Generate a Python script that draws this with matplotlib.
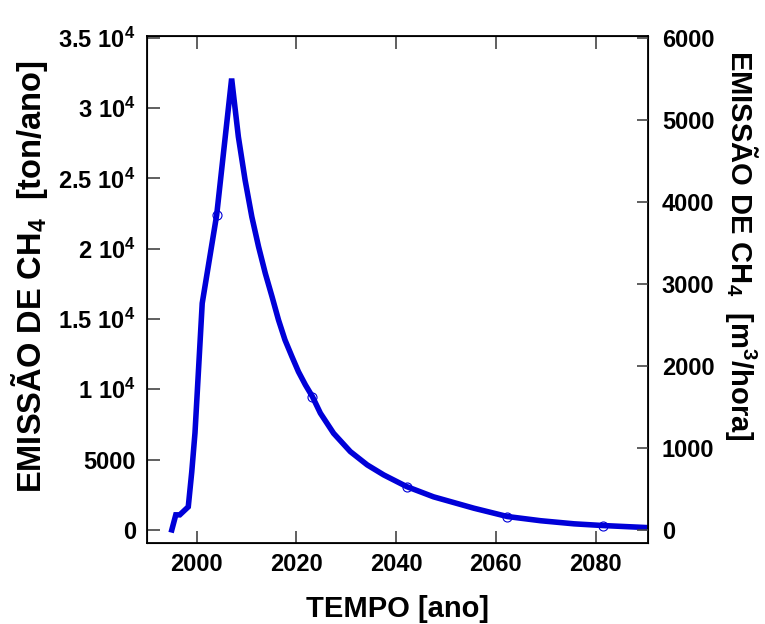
import matplotlib
matplotlib.use("Agg")
import matplotlib.pyplot as plt
from matplotlib.ticker import FuncFormatter

plt.rcParams.update({
    "font.family": "Liberation Sans",
    "font.weight": "bold",
    "mathtext.fontset": "custom",
    "mathtext.rm": "Liberation Sans:bold",
    "mathtext.bf": "Liberation Sans:bold",
    "mathtext.it": "Liberation Sans:bold",
    "mathtext.default": "bf",
})

# emission curve
ano = [1995.0, 1995.8, 1996.6, 1998.3, 1999.0, 1999.65, 2001.1, 2004.0, 2007.0,
       2008.35, 2009.7, 2011.05, 2012.4, 2013.75, 2015.1, 2016.4, 2017.7, 2019.1,
       2020.4, 2021.8, 2023.2, 2024.8, 2027.45, 2030.8, 2034.2, 2037.5, 2042.1,
       2047.5, 2055.6, 2062.3, 2069.0, 2075.7, 2081.4, 2090.5]
emissao = [0, 1070, 1070, 1640, 4120, 6900, 16120, 22400, 32100,
           27960, 24880, 22270, 20140, 18250, 16590, 14930, 13510, 12320,
           11250, 10310, 9480, 8300, 6870, 5570, 4620, 3910, 3080,
           2350, 1540, 950, 650, 430, 310, 160]

# open-circle markers
ano_marc = [2004.0, 2023.2, 2042.1, 2062.3, 2081.4]
emissao_marc = [22400, 9480, 3080, 950, 310]

yticks_esq = [0, 5000, 10000, 15000, 20000, 25000, 30000, 35000]
yticks_dir = [0, 1000, 2000, 3000, 4000, 5000, 6000]
xticks = [2000, 2020, 2040, 2060, 2080]
fator = 6000 / 35000


def fmt_esq(v, pos):
    if v < 10000:
        return "%d" % v
    return r"$\mathbf{%s\ 10^{4}}$" % ("%g" % (v / 1e4))


fig = plt.figure(figsize=(7.65, 6.24), dpi=100)
ax = fig.add_axes([0.192, 0.13, 0.655, 0.813])

cor = "#0000d8"
ax.plot(ano, emissao, color=cor, lw=4, solid_joinstyle="miter")
ax.plot(ano_marc, emissao_marc, "o", ms=6.5, mfc="none", mec=cor, mew=0.8)

ax.set_xlim(1990, 2090.5)
ax.set_ylim(-925, 35160)
ax.set_xticks(xticks)
ax.set_yticks(yticks_esq)
ax.yaxis.set_major_formatter(FuncFormatter(fmt_esq))
ax.tick_params(direction="in", length=9, width=1.2, labelsize=17, top=True,
               color="#444444")
ax.tick_params(axis="y", pad=8)
ax.tick_params(axis="x", pad=7)
for s in ax.spines.values():
    s.set_linewidth(1.3)

ax.set_xlabel("TEMPO [ano]", fontsize=21, fontweight="bold", labelpad=14)
ax.set_ylabel(r"EMISSÃO DE CH$_{4}$  [ton/ano]", fontsize=23.5, fontweight="bold", labelpad=6)
ax.yaxis.label.set_y(0.525)

ax2 = ax.twinx()
ax2.set_ylim(-925 * fator, 35160 * fator)
ax2.set_yticks(yticks_dir)
ax2.tick_params(direction="in", length=8, width=1.2, labelsize=17, pad=10,
                color="#444444")
ax2.set_ylabel(r"EMISSÃO DE CH$_{4}$  [m$^{3}$/hora]", fontsize=21,
               fontweight="bold", rotation=270, labelpad=33)
ax2.yaxis.label.set_y(0.587)

fig.savefig("out.png", dpi=100)
